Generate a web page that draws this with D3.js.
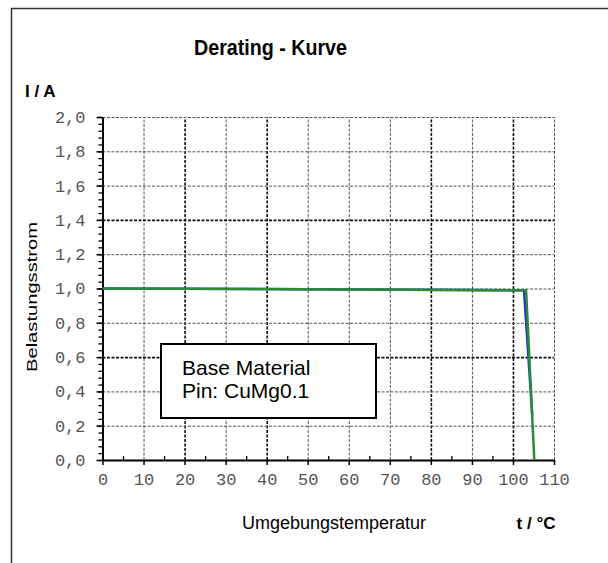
<!DOCTYPE html>
<html>
<head>
<meta charset="utf-8">
<script src="https://cdn.jsdelivr.net/npm/d3@7"></script>
<style>
  body { margin: 0; background: #fff; }
</style>
</head>
<body>
<div id="chart"></div>
<script>
// data
const xTickValues = [0, 10, 20, 30, 40, 50, 60, 70, 80, 90, 100, 110];
const yTickValues = [0, 0.2, 0.4, 0.6, 0.8, 1.0, 1.2, 1.4, 1.6, 1.8, 2.0];
const xMinorValues = [5, 15, 25, 35, 45, 55, 65, 75, 85, 95, 105];
const boldXGrid = [20, 40, 80, 100];
const boldYGrid = [0.6, 1.4];

// derating curves (t in °C, I in A)
const blueCurve = [[0, 1.0], [102.7, 0.99], [104.7, 0.26]];
const greenCurve = [[0, 1.0], [103.2, 0.99], [105.2, 0.0]];

const boxLines = ["Base Material", "Pin: CuMg0.1"];

const width = 608, height = 563;
const plot = { left: 102.5, right: 554, top: 117, bottom: 460 };
const sans = "'Liberation Sans', Arial, sans-serif";
const mono = "'Liberation Mono', 'Courier New', monospace";

const svg = d3.select("#chart").append("svg")
  .attr("width", width)
  .attr("height", height)
  .attr("font-family", sans);

// outer frame (left + top only, rest runs off the picture)
svg.append("path")
  .attr("d", "M11.5," + height + "V8.5H" + width)
  .attr("fill", "none")
  .attr("stroke", "#333")
  .attr("stroke-width", 1.5);

const x = d3.scaleLinear().domain([0, 110]).range([plot.left, plot.right]);
const y = d3.scaleLinear().domain([0, 2]).range([plot.bottom, plot.top]);

const isBoldY = d => boldYGrid.some(v => Math.abs(v - d) < 1e-6);

// grid lines
svg.append("g")
  .attr("class", "grid")
  .attr("transform", "translate(0," + plot.bottom + ")")
  .call(d3.axisBottom(x).tickValues(xTickValues.slice(1))
    .tickSize(-(plot.bottom - plot.top)).tickFormat(""))
  .call(g => g.select(".domain").remove())
  .selectAll("line")
  .attr("stroke", d => boldXGrid.includes(d) ? "#111" : "#555")
  .attr("stroke-width", d => boldXGrid.includes(d) ? 1.6 : 1)
  .attr("stroke-dasharray", "3,1.5");

svg.append("g")
  .attr("class", "grid")
  .attr("transform", "translate(" + plot.left + ",0)")
  .call(d3.axisLeft(y).tickValues(yTickValues.slice(1))
    .tickSize(-(plot.right - plot.left)).tickFormat(""))
  .call(g => g.select(".domain").remove())
  .selectAll("line")
  .attr("stroke", d => isBoldY(d) ? "#111" : "#555")
  .attr("stroke-width", d => isBoldY(d) ? 1.6 : 1)
  .attr("stroke-dasharray", "3,1.5");

// minor ticks
svg.append("g")
  .attr("transform", "translate(" + plot.left + ",0)")
  .call(d3.axisLeft(y).tickValues(d3.range(0, 2.001, 0.04)).tickSize(4).tickFormat(""))
  .call(g => g.select(".domain").remove())
  .selectAll("line").attr("stroke", "#000").attr("stroke-width", 1.3);

svg.append("g")
  .attr("transform", "translate(0," + plot.bottom + ")")
  .call(d3.axisTop(x).tickValues(xMinorValues).tickSize(4).tickFormat(""))
  .call(g => g.select(".domain").remove())
  .selectAll("line").attr("stroke", "#000").attr("stroke-width", 1.3);

// main axes
const commaFmt = d => d3.format(".1f")(d).replace(".", ",");

svg.append("g")
  .attr("transform", "translate(" + plot.left + ",0)")
  .call(d3.axisLeft(y).tickValues(yTickValues).tickFormat(commaFmt)
    .tickSize(6).tickSizeOuter(0).tickPadding(11))
  .attr("font-family", mono)
  .attr("font-size", 17)
  .call(g => g.select(".domain").attr("stroke", "#000").attr("stroke-width", 2))
  .call(g => g.selectAll("line").attr("stroke", "#000").attr("stroke-width", 1.5))
  .call(g => g.selectAll("text").attr("fill", "#555"));

svg.append("g")
  .attr("transform", "translate(0," + plot.bottom + ")")
  .call(d3.axisBottom(x).tickValues(xTickValues).tickFormat(d3.format("d"))
    .tickSize(5).tickSizeOuter(0).tickPadding(8))
  .attr("font-family", mono)
  .attr("font-size", 17)
  .call(g => g.select(".domain").attr("stroke", "#000").attr("stroke-width", 2))
  .call(g => g.selectAll("line").attr("stroke", "#000").attr("stroke-width", 1.5))
  .call(g => g.selectAll("text").attr("fill", "#555"));

// curves
const line = d3.line().x(d => x(d[0])).y(d => y(d[1]));

svg.append("path")
  .datum(blueCurve)
  .attr("fill", "none")
  .attr("stroke", "#1f35c8")
  .attr("stroke-width", 2.5)
  .attr("d", line);

svg.append("path")
  .datum(greenCurve)
  .attr("fill", "none")
  .attr("stroke", "#2a8a3a")
  .attr("stroke-width", 2.5)
  .attr("d", line);

// annotation box
const box = svg.append("g");
box.append("rect")
  .attr("x", 161).attr("y", 344)
  .attr("width", 215).attr("height", 74)
  .attr("fill", "#fff")
  .attr("stroke", "#000")
  .attr("stroke-width", 2);
box.selectAll("text.box")
  .data(boxLines)
  .enter().append("text")
  .attr("class", "box")
  .attr("x", 182)
  .attr("y", (d, i) => 375 + i * 23)
  .attr("font-size", 21)
  .attr("fill", "#000")
  .text(d => d);

// titles and axis labels
svg.append("text")
  .attr("x", 194).attr("y", 55)
  .attr("font-size", 22).attr("font-weight", "bold")
  .attr("textLength", 153)
  .attr("lengthAdjust", "spacingAndGlyphs")
  .text("Derating - Kurve");

svg.append("text")
  .attr("x", 25).attr("y", 97)
  .attr("font-size", 17).attr("font-weight", "bold")
  .text("I / A");

svg.append("text")
  .attr("transform", "translate(37,297) rotate(-90)")
  .attr("text-anchor", "middle")
  .attr("font-size", 15)
  .attr("textLength", 150)
  .attr("lengthAdjust", "spacingAndGlyphs")
  .text("Belastungsstrom");

svg.append("text")
  .attr("x", 334).attr("y", 529)
  .attr("text-anchor", "middle")
  .attr("font-size", 18)
  .text("Umgebungstemperatur");

svg.append("text")
  .attr("x", 536).attr("y", 529)
  .attr("text-anchor", "middle")
  .attr("font-size", 17).attr("font-weight", "bold")
  .text("t / °C");
</script>
</body>
</html>
